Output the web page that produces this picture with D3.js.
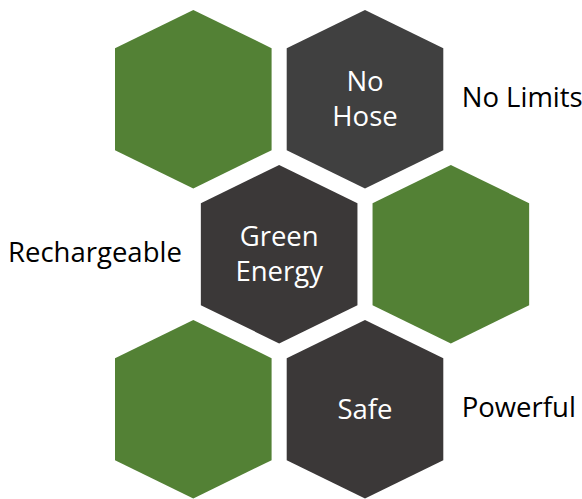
<!DOCTYPE html>
<html><head><meta charset="utf-8">
<script src="https://cdn.jsdelivr.net/npm/d3@7"></script>
<style>html,body{margin:0;padding:0;background:#fff;}svg{display:block;}</style>
</head><body>
<svg id="c" width="582" height="499"></svg>
<script>
// data
const hexLabels = [[], ["No","Hose"], ["Green","Energy"], [], [], ["Safe"]];
const hexCols = [0, 1, 0.5, 1.5, 0, 1];
const hexRows = [0, 0, 1, 1, 2, 2];
const hexKinds = ["green", "dark1", "dark", "green", "green", "dark"];
const sideLabels = ["No Limits", "Rechargeable", "Powerful"];
const sideRows = [0, 1, 2];
const sideAnchor = ["start", "end", "start"];

const colors = {green: "#538135", dark1: "#404040", dark: "#3B3838"};
const svg = d3.select("#c");
const x = d3.scaleLinear().domain([0, 1]).range([193.3, 365]);
const y = d3.scaleLinear().domain([0, 1]).range([99.2, 254.2]);

const hw = 78.3, tip = 89.2, side = 51;
const hexPts = [[0,-tip],[hw,-side],[hw,side],[0,tip],[-hw,side],[-hw,-side]];
const line = d3.line().curve(d3.curveLinearClosed);

const g = svg.selectAll("g.hex").data(hexLabels.map((l,i)=>({l, c:hexCols[i], r:hexRows[i], k:hexKinds[i]})))
  .enter().append("g").attr("class","hex")
  .attr("transform", d => `translate(${x(d.c)},${y(d.r)})`);
g.append("path").attr("d", line(hexPts)).attr("fill", d => colors[d.k]);
g.each(function(d){
  const n = d.l.length, lh = 35.6;
  d3.select(this).selectAll("text").data(d.l).enter().append("text")
    .attr("x", 0)
    .attr("y", (t,j) => (j - (n-1)/2) * lh + 9.4)
    .attr("text-anchor","middle")
    .attr("fill","#fff")
    .attr("font-family","'Open Sans', 'Noto Sans', sans-serif")
    .attr("font-size", 27.5)
    .text(t => t);
});

// side labels
const sideX = {start: x(1) + hw + 18.4, end: x(0.5) - hw - 19};
svg.selectAll("text.side").data(sideLabels.map((s,i)=>({s, r:sideRows[i], a:sideAnchor[i]})))
  .enter().append("text").attr("class","side")
  .attr("x", d => sideX[d.a])
  .attr("y", d => y(d.r) + 7.5)
  .attr("text-anchor", d => d.a)
  .attr("fill","#000")
  .attr("font-family","'Open Sans', 'Noto Sans', sans-serif")
  .attr("font-size", 27.5)
  .text(d => d.s);
</script>
</body></html>
